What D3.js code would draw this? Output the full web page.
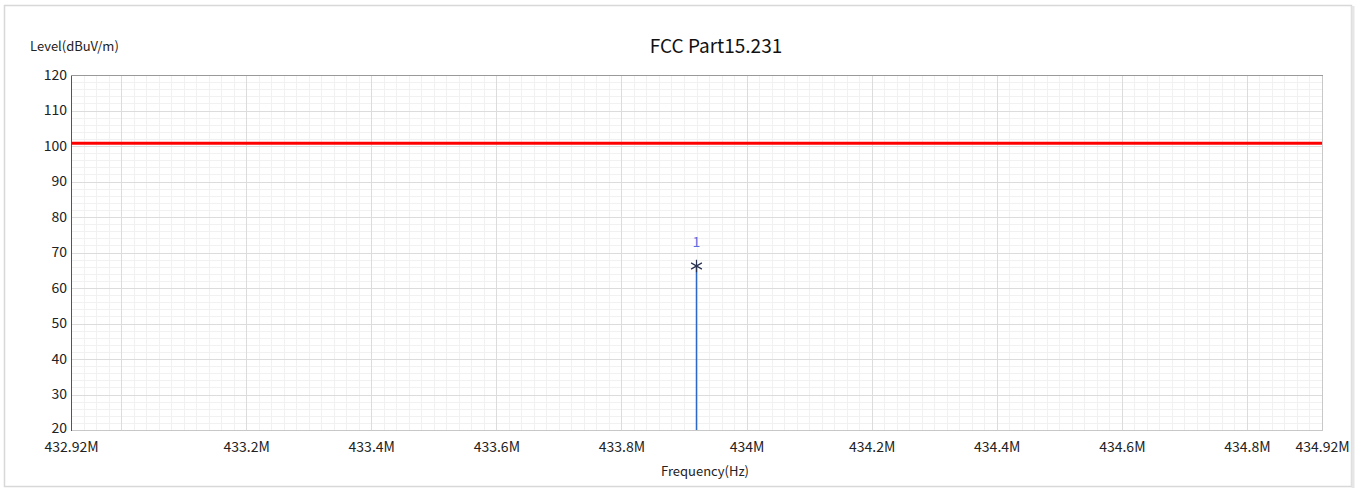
<!DOCTYPE html>
<html>
<head>
<meta charset="utf-8">
<script src="https://cdn.jsdelivr.net/npm/d3@7"></script>
<style>
  body { margin: 0; background: #ffffff; }
  svg { display: block; font-family: "Noto Sans CJK SC", "Open Sans", sans-serif; }
</style>
</head>
<body>
<script>
// chart data
var xDomain = [432.92, 434.92];            // MHz
var yDomain = [20, 120];                    // dBuV/m
var xTickValues = [432.92, 433.2, 433.4, 433.6, 433.8, 434.0, 434.2, 434.4, 434.6, 434.8, 434.92];
var xTickLabels = ["432.92M", "433.2M", "433.4M", "433.6M", "433.8M", "434M", "434.2M", "434.4M", "434.6M", "434.8M", "434.92M"];
var yTickValues = [20, 30, 40, 50, 60, 70, 80, 90, 100, 110, 120];
var limitLine = [[432.92, 100.8], [434.92, 100.8]];
var peakFreq = [433.92];
var peakLevel = [66.2];
var peakLabel = ["1"];

var width = 1361, height = 490;
var margin = {left: 71, top: 75, right: 39, bottom: 60};

var svg = d3.select("body").append("svg")
    .attr("width", width)
    .attr("height", height);

// panel frame
svg.append("rect")
    .attr("x", 4.5).attr("y", 5.5)
    .attr("width", 1347).attr("height", 481)
    .attr("fill", "#ffffff")
    .attr("stroke", "#d8d8d8")
    .attr("stroke-width", 1.5);
svg.append("line")
    .attr("x1", 1353).attr("x2", 1353).attr("y1", 6).attr("y2", 488)
    .attr("stroke", "#e6e6e6").attr("stroke-width", 3);

var x = d3.scaleLinear().domain(xDomain).range([margin.left, width - margin.right]);
var y = d3.scaleLinear().domain(yDomain).range([height - margin.bottom, margin.top]);

var grid = svg.append("g");

// minor grid
var minorX = d3.range(432.94, 434.92, 0.02).map(function (d) { return +d.toFixed(2); });
var minorY = d3.range(22, 120, 2);
grid.selectAll(".mx").data(minorX).enter().append("line")
    .attr("x1", function (d) { return Math.round(x(d)) + 0.5; })
    .attr("x2", function (d) { return Math.round(x(d)) + 0.5; })
    .attr("y1", y(120)).attr("y2", y(20))
    .attr("stroke", "#f1f1f1");
grid.selectAll(".my").data(minorY).enter().append("line")
    .attr("y1", function (d) { return Math.round(y(d)) + 0.5; })
    .attr("y2", function (d) { return Math.round(y(d)) + 0.5; })
    .attr("x1", x(xDomain[0])).attr("x2", x(xDomain[1]))
    .attr("stroke", "#f1f1f1");

// major grid
var majorX = [433.0, 433.2, 433.4, 433.6, 433.8, 434.0, 434.2, 434.4, 434.6, 434.8];
grid.selectAll(".Mx").data(majorX).enter().append("line")
    .attr("x1", function (d) { return Math.round(x(d)) + 0.5; })
    .attr("x2", function (d) { return Math.round(x(d)) + 0.5; })
    .attr("y1", y(120)).attr("y2", y(20))
    .attr("stroke", "#dcdcdc");
grid.selectAll(".My").data(yTickValues.slice(1, -1)).enter().append("line")
    .attr("y1", function (d) { return Math.round(y(d)) + 0.5; })
    .attr("y2", function (d) { return Math.round(y(d)) + 0.5; })
    .attr("x1", x(xDomain[0])).attr("x2", x(xDomain[1]))
    .attr("stroke", "#dcdcdc");

// plot border
svg.append("rect")
    .attr("x", x(xDomain[0]) + 0.5).attr("y", y(120) + 0.5)
    .attr("width", x(xDomain[1]) - x(xDomain[0]))
    .attr("height", y(20) - y(120))
    .attr("fill", "none")
    .attr("stroke", "#c8c8c8");
svg.append("line")
    .attr("x1", x(xDomain[0]) + 0.5).attr("x2", x(xDomain[0]) + 0.5)
    .attr("y1", y(120)).attr("y2", y(20) + 1)
    .attr("stroke", "#555");
svg.append("line")
    .attr("x1", x(xDomain[0])).attr("x2", x(xDomain[1]) + 1)
    .attr("y1", y(120) + 0.5).attr("y2", y(120) + 0.5)
    .attr("stroke", "#999");

// y axis labels
var yAxis = d3.axisLeft(y).tickValues(yTickValues).tickSize(0).tickPadding(4);
var gy = svg.append("g")
    .attr("transform", "translate(" + margin.left + ",0)")
    .call(yAxis);
gy.select(".domain").remove();
gy.selectAll("text").attr("font-size", 14).attr("fill", "#222")
    .attr("font-family", "'Noto Sans CJK SC', sans-serif");
gy.selectAll(".tick").filter(function (d) { return d === 20; })
    .select("text").attr("dy", "0.15em");

// x axis labels
var xAxis = d3.axisBottom(x).tickValues(xTickValues).tickSize(0).tickPadding(12)
    .tickFormat(function (d, i) { return xTickLabels[i]; });
var gx = svg.append("g")
    .attr("transform", "translate(0," + (height - margin.bottom) + ")")
    .call(xAxis);
gx.select(".domain").remove();
gx.selectAll("text").attr("font-size", 14).attr("fill", "#222")
    .attr("font-family", "'Noto Sans CJK SC', sans-serif");

// limit line
var line = d3.line()
    .x(function (d) { return x(d[0]); })
    .y(function (d) { return y(d[1]); });
svg.append("path")
    .datum(limitLine)
    .attr("d", line)
    .attr("fill", "none")
    .attr("stroke", "#ff0000")
    .attr("stroke-width", 3);

// peak
peakFreq.forEach(function (f, i) {
    svg.append("line")
        .attr("x1", x(f)).attr("x2", x(f))
        .attr("y1", y(20)).attr("y2", y(peakLevel[i]))
        .attr("stroke", "#2b68c8")
        .attr("stroke-width", 1.5);
    svg.append("path")
        .attr("d", d3.symbol().type(d3.symbolAsterisk).size(110))
        .attr("transform", "translate(" + x(f) + "," + y(peakLevel[i]) + ")")
        .attr("fill", "none")
        .attr("stroke", "#2a3350")
        .attr("stroke-width", 1.2);
    svg.append("text")
        .attr("x", x(f)).attr("y", y(peakLevel[i]) - 19)
        .attr("text-anchor", "middle")
        .attr("font-size", 14)
        .attr("fill", "#5a6ee0")
        .text(peakLabel[i]);
});

// titles
svg.append("text")
    .attr("x", 716).attr("y", 53)
    .attr("text-anchor", "middle")
    .attr("font-size", 19)
    .attr("fill", "#111")
    .text("FCC Part15.231");
svg.append("text")
    .attr("x", 30).attr("y", 51)
    .attr("font-size", 13)
    .attr("fill", "#222")
    .text("Level(dBuV/m)");
svg.append("text")
    .attr("x", 705).attr("y", 476)
    .attr("text-anchor", "middle")
    .attr("font-size", 13)
    .attr("fill", "#222")
    .text("Frequency(Hz)");
</script>
</body>
</html>
